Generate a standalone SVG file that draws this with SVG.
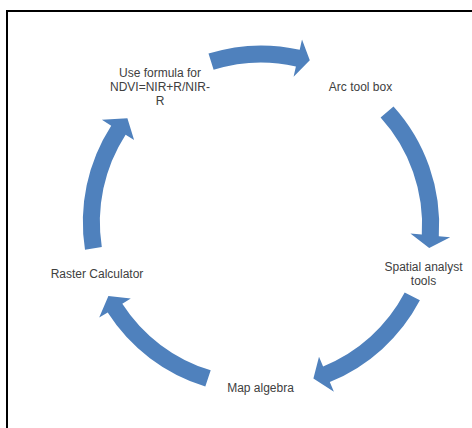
<svg xmlns="http://www.w3.org/2000/svg" width="472" height="428" viewBox="0 0 472 428">
<style>
.arrow{fill:#4F81BD;stroke:none}
.lbl{font-family:"Liberation Sans",Arial,sans-serif;font-size:12px;fill:#404040;text-anchor:middle}
</style>
<rect x="0" y="0" width="472" height="428" fill="#fff"/>
<rect x="7" y="11" width="480" height="430" fill="none" stroke="#000" stroke-width="2"/>
<g id="connectors">
<path class="arrow" d="M208.5,53.6 A174.5,174.5 0 0 1 299.7,49.8 L302,39.6 L309.8,60.3 L293.6,76.7 L295.9,66.4 A157.5,157.5 0 0 0 213.6,69.8 Z"/>
<path class="arrow" d="M393.5,106.4 A176.5,176.5 0 0 1 438.8,236.2 L450.2,237.2 L429.2,248.1 L410.4,233.6 L421.8,234.6 A159.5,159.5 0 0 0 380.6,117.5 Z"/>
<path class="arrow" d="M419.9,300.3 A177,177 0 0 1 329.8,382 L333.9,391.7 L313.4,378.5 L319,356.7 L323.1,366.4 A160,160 0 0 0 404.7,292.6 Z"/>
<path class="arrow" d="M205.3,386.4 A177,177 0 0 1 107.7,312.5 L99.2,317.6 L108.4,296.1 L130.8,298.5 L122.3,303.7 A160,160 0 0 0 210.7,370.3 Z"/>
<path class="arrow" d="M85,249.8 A178,178 0 0 1 111.2,125.7 L101.9,119.8 L127.4,118.2 L134.1,140.1 L125.6,134.7 A161,161 0 0 0 101.8,246.9 Z"/>
</g>
<g id="node-formula">
<text class="lbl" x="160" y="77">Use formula for</text>
<text class="lbl" x="160" y="91">NDVI=NIR+R/NIR-</text>
<text class="lbl" x="160" y="105">R</text>
</g>
<g id="node-arc">
<text class="lbl" x="360.5" y="90.5">Arc tool box</text>
</g>
<g id="node-spatial">
<text class="lbl" x="423.5" y="270.5">Spatial analyst</text>
<text class="lbl" x="423.5" y="284.5">tools</text>
</g>
<g id="node-map">
<text class="lbl" x="260.5" y="392">Map algebra</text>
</g>
<g id="node-raster">
<text class="lbl" x="97" y="277.5">Raster Calculator</text>
</g>
</svg>
